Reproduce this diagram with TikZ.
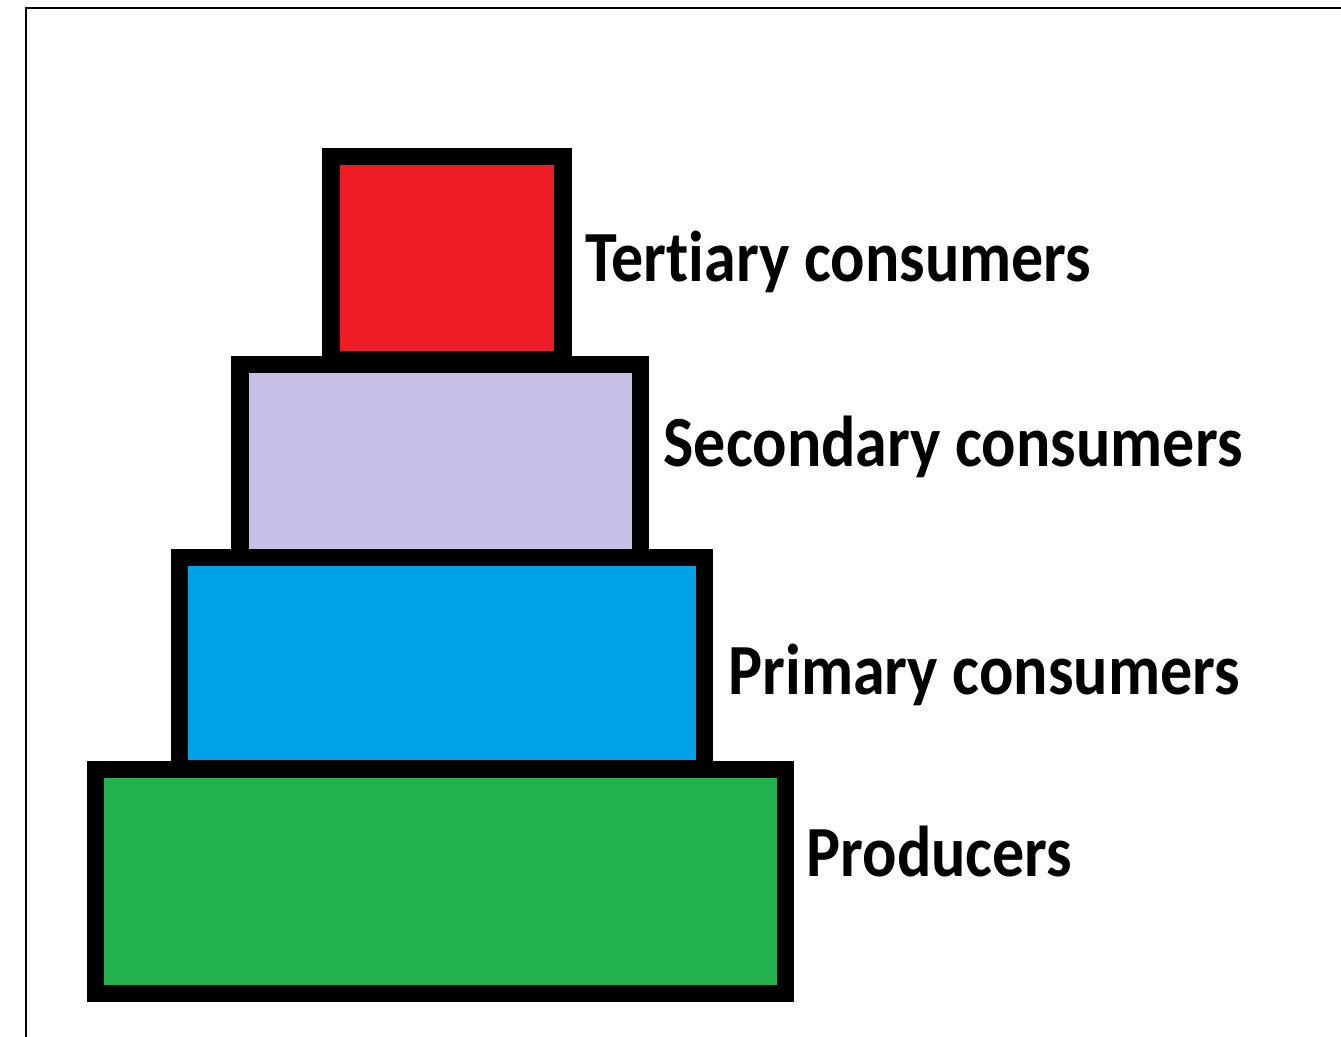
\documentclass[tikz,border=0pt]{standalone}
\usepackage{fontspec}
\setmainfont[FakeStretch=0.89, Ligatures=NoCommon]{Carlito}

\tikzset{every picture/.style={line width=0.75pt}}
\tikzset{
  level/.style={draw=black, line width=13.1pt},
  label/.style={anchor=base west, inner sep=0pt, font=\fontsize{54}{60}\selectfont\bfseries}
}

\begin{document}
\begin{tikzpicture}[x=0.75pt,y=0.75pt,yscale=-1,xscale=1]
    \useasboundingbox (0,0) rectangle (1341,1037);

    %Straight Lines [frame]
    \draw [line width=1.5]  (25.5,1037) -- (25.5,8) -- (1341,8) ;

    %Shape: Rectangle [tertiary]
    \draw [level, fill={rgb, 255:red, 237; green, 28; blue, 36 }]  (331,156.5) -- (563,156.5) -- (563,360) -- (331,360) -- cycle ;
    %Shape: Rectangle [secondary]
    \draw [level, fill={rgb, 255:red, 200; green, 191; blue, 231 }]  (240,364.5) -- (640.5,364.5) -- (640.5,557.5) -- (240,557.5) -- cycle ;
    %Shape: Rectangle [primary]
    \draw [level, fill={rgb, 255:red, 0; green, 162; blue, 232 }]  (179.5,557.5) -- (704.5,557.5) -- (704.5,769) -- (179.5,769) -- cycle ;
    %Shape: Rectangle [producers]
    \draw [level, fill={rgb, 255:red, 34; green, 177; blue, 76 }]  (95.5,769.5) -- (785.5,769.5) -- (785.5,993.5) -- (95.5,993.5) -- cycle ;

    % Text Node
    \node [label] (tertiary) at (585,282) {Tertiary consumers};
    % Text Node
    \node [label] (secondary) at (663,466) {Secondary consumers};
    % Text Node
    \node [label] (primary) at (728,694) {Primary consumers};
    % Text Node
    \node [label] (producers) at (806,876) {Producers};

\end{tikzpicture}
\end{document}
